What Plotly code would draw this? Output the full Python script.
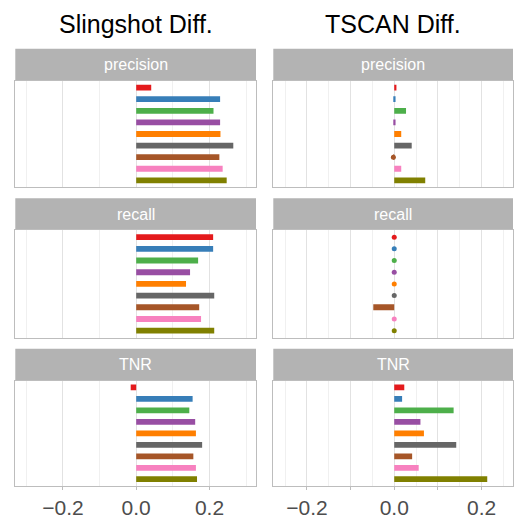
import plotly.graph_objects as go

# ---- data ----
methods = ["M1", "M2", "M3", "M4", "M5", "M6", "M7", "M8", "M9"]
colors = ["#E41A1C", "#377EB8", "#4DAF4A", "#984EA3", "#FF7F00",
          "#666666", "#A65628", "#F781BF", "#808000"]
metrics = ["precision", "recall", "TNR"]
columns = ["Slingshot Diff.", "TSCAN Diff."]

slingshot_precision = [0.041, 0.229, 0.211, 0.229, 0.230, 0.265, 0.227, 0.236, 0.247]
slingshot_recall = [0.210, 0.210, 0.169, 0.147, 0.136, 0.213, 0.172, 0.177, 0.213]
slingshot_tnr = [-0.015, 0.154, 0.145, 0.161, 0.163, 0.180, 0.156, 0.163, 0.166]

tscan_precision = [0.005, 0.003, 0.027, 0.003, 0.016, 0.040, -0.002, 0.016, 0.071]
tscan_recall = [0.0, 0.0, 0.0, 0.0, 0.0, 0.0, -0.048, 0.0, 0.0]
tscan_tnr = [0.023, 0.018, 0.136, 0.060, 0.068, 0.142, 0.041, 0.056, 0.213]

values = {
    (0, 0): slingshot_precision, (1, 0): slingshot_recall, (2, 0): slingshot_tnr,
    (0, 1): tscan_precision, (1, 1): tscan_recall, (2, 1): tscan_tnr,
}

# ---- layout geometry ----
W, H = 517, 519
col_px = [(15.3, 256.0), (273.3, 513.0)]
row_px = [(81, 188), (231, 339), (382, 488)]
strip_px = [(49, 81), (199, 231), (350, 382)]
x_ranges = [[-0.330, 0.327], [-0.277, 0.272]]
DOT_LIMIT = 0.0025

def py(v):
    return 1 - v / H

fig = go.Figure()
layout = dict(width=W, height=H, margin=dict(l=0, r=0, t=0, b=0),
              paper_bgcolor="white", plot_bgcolor="white",
              showlegend=False, bargap=0.5)
shapes, annotations = [], []

idx = 0
for r in range(3):
    for c in range(2):
        idx += 1
        xa = "x" if idx == 1 else f"x{idx}"
        ya = "y" if idx == 1 else f"y{idx}"
        vals = values[(r, c)]
        fig.add_trace(go.Bar(
            x=vals, y=methods, orientation="h",
            marker=dict(color=colors, line=dict(width=0)),
            width=0.5, xaxis=xa, yaxis=ya, hoverinfo="x"))
        # (near) zero values show as dots
        dx = [v for v in vals if abs(v) <= DOT_LIMIT]
        dy = [m for m, v in zip(methods, vals) if abs(v) <= DOT_LIMIT]
        dc = [col for col, v in zip(colors, vals) if abs(v) <= DOT_LIMIT]
        if dx:
            fig.add_trace(go.Scatter(
                x=dx, y=dy, mode="markers",
                marker=dict(color=dc, size=5, line=dict(width=0)),
                xaxis=xa, yaxis=ya, hoverinfo="x"))
        bottom = (r == 2)
        xkey = "xaxis" if idx == 1 else f"xaxis{idx}"
        ykey = "yaxis" if idx == 1 else f"yaxis{idx}"
        x0, x1 = col_px[c]
        t0, t1 = row_px[r]
        axis = dict(domain=[x0 / W, x1 / W], anchor=ya, range=x_ranges[c],
                    showline=True, mirror=True, linecolor="#bdbdbd", linewidth=1,
                    zeroline=False, showgrid=True, gridcolor="#e2e2e2", gridwidth=1,
                    showticklabels=bottom,
                    ticks="outside" if bottom else "", ticklen=3,
                    tickcolor="#bdbdbd",
                    tickfont=dict(family="Liberation Sans, Arial", size=21, color="#4d4d4d"))
        if c == 0:
            axis.update(tickmode="array", tickvals=[-0.2, 0.0, 0.2],
                        ticktext=["\u22120.2", "0.0", "0.2"],
                        minor=dict(tickmode="array", tickvals=[-0.3, -0.1, 0.1, 0.3],
                                   showgrid=True, gridcolor="#f0f0f0", gridwidth=1, ticks=""))
        else:
            axis.update(tickmode="array", tickvals=[-0.2, -0.1, 0.0, 0.1, 0.2],
                        ticktext=["\u22120.2", "", "0.0", "", "0.2"],
                        minor=dict(tickmode="array",
                                   tickvals=[-0.25, -0.15, -0.05, 0.05, 0.15, 0.25],
                                   showgrid=True, gridcolor="#f0f0f0", gridwidth=1, ticks=""))
        layout[xkey] = axis
        layout[ykey] = dict(domain=[py(t1), py(t0)], anchor=xa,
                            type="category", categoryarray=methods,
                            range=[8.6, -0.6], showticklabels=False,
                            showgrid=False, zeroline=False,
                            showline=True, mirror=True, linecolor="#bdbdbd",
                            linewidth=1, ticks="")
        # strip
        s0, s1 = strip_px[r]
        shapes.append(dict(type="rect", xref="paper", yref="paper",
                           x0=x0 / W, x1=x1 / W, y0=py(s1), y1=py(s0),
                           fillcolor="#b3b3b3", line=dict(width=0), layer="below"))
        annotations.append(dict(text=metrics[r], xref="paper", yref="paper",
                                x=(x0 + x1) / 2 / W, y=py((s0 + s1) / 2),
                                xanchor="center", yanchor="middle", showarrow=False,
                                font=dict(family="Liberation Sans, Arial", size=16,
                                          color="white")))

for c in range(2):
    x0, x1 = col_px[c]
    annotations.append(dict(text=columns[c], xref="paper", yref="paper",
                            x=(x0 + x1) / 2 / W, y=py(24),
                            xanchor="center", yanchor="middle", showarrow=False,
                            font=dict(family="Liberation Sans, Arial", size=25,
                                      color="black")))

layout["shapes"] = shapes
layout["annotations"] = annotations
fig.update_layout(**layout)
fig.write_html("out.html")
